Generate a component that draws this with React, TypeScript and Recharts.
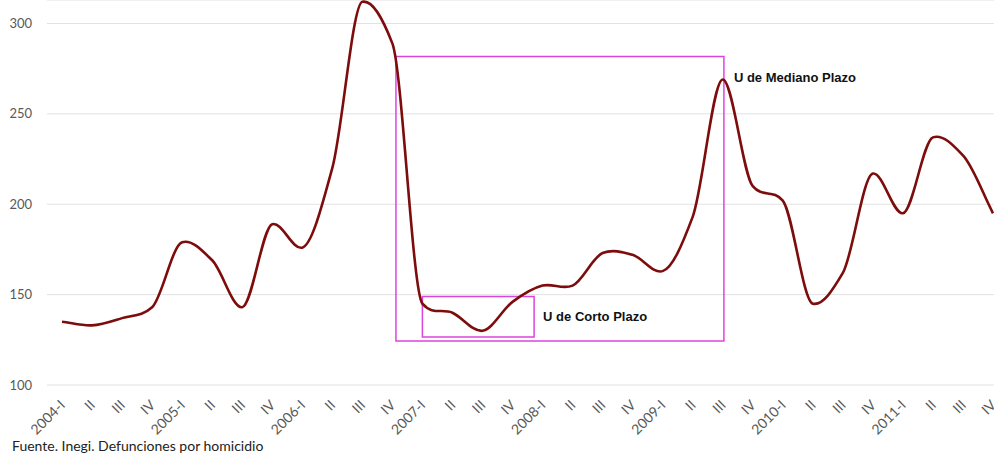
import React from 'react';
import {
  LineChart,
  Line,
  XAxis,
  YAxis,
  CartesianGrid,
  ReferenceArea,
  Label,
} from 'recharts';

// Quarterly homicide figures, 2004-I .. 2011-IV
const quarters = [
  '2004-I', 'II', 'III', 'IV',
  '2005-I', 'II', 'III', 'IV',
  '2006-I', 'II', 'III', 'IV',
  '2007-I', 'II', 'III', 'IV',
  '2008-I', 'II', 'III', 'IV',
  '2009-I', 'II', 'III', 'IV',
  '2010-I', 'II', 'III', 'IV',
  '2011-I', 'II', 'III', 'IV',
];

const homicides = [
  135, 133, 137, 143,
  179, 169, 143, 189,
  176, 220, 312, 289,
  145, 140, 130, 146,
  155, 155, 173, 172,
  163, 193, 269, 210,
  202, 145, 162, 217,
  195, 237, 227, 195,
];

const yTicks = [100, 150, 200, 250, 300];

// highlighted windows (quarter index / value ranges)
const mediumTerm = { x1: 11.12, x2: 22.04, y1: 124.3, y2: 281.8 };
const shortTerm = { x1: 12.0, x2: 15.72, y1: 126.5, y2: 148.9 };

const data = quarters.map((q, i) => ({ idx: i, quarter: q, value: homicides[i] }));

// Excel-like smoothing: cubic Hermite where each tangent is a blend of the
// neighbouring slopes, weighted toward the shorter segment (limits overshoot)
const smoothCurve = (context: any) => {
  let pts: number[][] = [];
  return {
    areaStart() {},
    areaEnd() {},
    lineStart() {
      pts = [];
    },
    lineEnd() {
      const n = pts.length;
      if (!n) return;
      context.moveTo(pts[0][0], pts[0][1]);
      if (n === 1) return;
      const slope = (a: number[], b: number[]) => (b[1] - a[1]) / (b[0] - a[0] || 1);
      const len = (a: number[], b: number[]) => Math.hypot(b[0] - a[0], b[1] - a[1]);
      const m: number[] = pts.map((p, i) => {
        if (i === 0) return slope(pts[0], pts[1]);
        if (i === n - 1) return slope(pts[n - 2], pts[n - 1]);
        const s0 = slope(pts[i - 1], p);
        const s1 = slope(p, pts[i + 1]);
        const l0 = len(pts[i - 1], p);
        const l1 = len(p, pts[i + 1]);
        return (s0 * l1 + s1 * l0) / (l0 + l1);
      });
      for (let i = 0; i < n - 1; i++) {
        const p1 = pts[i];
        const p2 = pts[i + 1];
        const dx = (p2[0] - p1[0]) / 3;
        context.bezierCurveTo(
          p1[0] + dx,
          p1[1] + m[i] * dx,
          p2[0] - dx,
          p2[1] - m[i + 1] * dx,
          p2[0],
          p2[1]
        );
      }
    },
    point(x: number, y: number) {
      pts.push([+x, +y]);
    },
  };
};

const QuarterTick = (props: any) => {
  const { x, y, payload } = props;
  const ax = x + 4;
  const ay = y + 21;
  return (
    <text
      x={ax}
      y={ay}
      transform={`rotate(-45 ${ax} ${ay})`}
      textAnchor="end"
      fill="#595959"
      fontSize={14}
      fontFamily="Lato"
    >
      {quarters[payload.value]}
    </text>
  );
};

const MedianoLabel = (props: any) => {
  const { viewBox } = props;
  if (!viewBox) return null;
  return (
    <text
      x={viewBox.x + viewBox.width + 10}
      y={viewBox.y + 26}
      fill="#111"
      fontSize={13}
      fontWeight="bold"
      fontFamily="Liberation Sans, Arial, sans-serif"
    >
      U de Mediano Plazo
    </text>
  );
};

const App: React.FC = () => {
  return (
    <div
      style={{
        position: 'absolute',
        left: 0,
        top: 0,
        width: 994,
        height: 453,
        background: '#fff',
        overflow: 'hidden',
      }}
    >
      <LineChart width={994} height={440} data={data} margin={{ top: 0, right: 0, bottom: 0, left: 0 }}>
        <CartesianGrid vertical={false} stroke="#e2e2e2" strokeWidth={1} />
        <XAxis
          dataKey="idx"
          type="number"
          domain={[0, 31]}
          ticks={data.map((d) => d.idx)}
          interval={0}
          padding={{ left: 15, right: 1 }}
          height={55}
          axisLine={false}
          tickLine={false}
          tickSize={0}
          tickMargin={0}
          tick={<QuarterTick />}
        />
        <YAxis
          domain={[100, 313]}
          ticks={yTicks}
          width={47}
          axisLine={false}
          tickLine={false}
          tickSize={0}
          tickMargin={15}
          tick={{ fill: '#595959', fontSize: 13, fontFamily: 'Lato' }}
        />
        <ReferenceArea
          {...mediumTerm}
          stroke="#dd44dd"
          strokeWidth={1.5}
          fill="none"
          fillOpacity={0}
          ifOverflow="visible"
        >
          <Label content={MedianoLabel} />
        </ReferenceArea>
        <ReferenceArea
          {...shortTerm}
          stroke="#dd44dd"
          strokeWidth={1.5}
          fill="none"
          fillOpacity={0}
          ifOverflow="visible"
          label={{
            value: 'U de Corto Plazo',
            position: 'right',
            offset: 9,
            fill: '#111',
            fontSize: 13,
            fontWeight: 'bold',
            fontFamily: 'Liberation Sans, Arial, sans-serif',
          }}
        />
        <Line
          type={smoothCurve as any}
          dataKey="value"
          stroke="#7d0c0c"
          strokeWidth={2.6}
          dot={false}
          isAnimationActive={false}
        />
      </LineChart>
      <div
        style={{
          position: 'absolute',
          left: 12,
          top: 439,
          fontFamily: 'Lato',
          fontSize: 14,
          lineHeight: '14px',
          color: '#222',
          whiteSpace: 'nowrap',
        }}
      >
        Fuente. Inegi. Defunciones por homicidio
      </div>
    </div>
  );
};

export default App;
